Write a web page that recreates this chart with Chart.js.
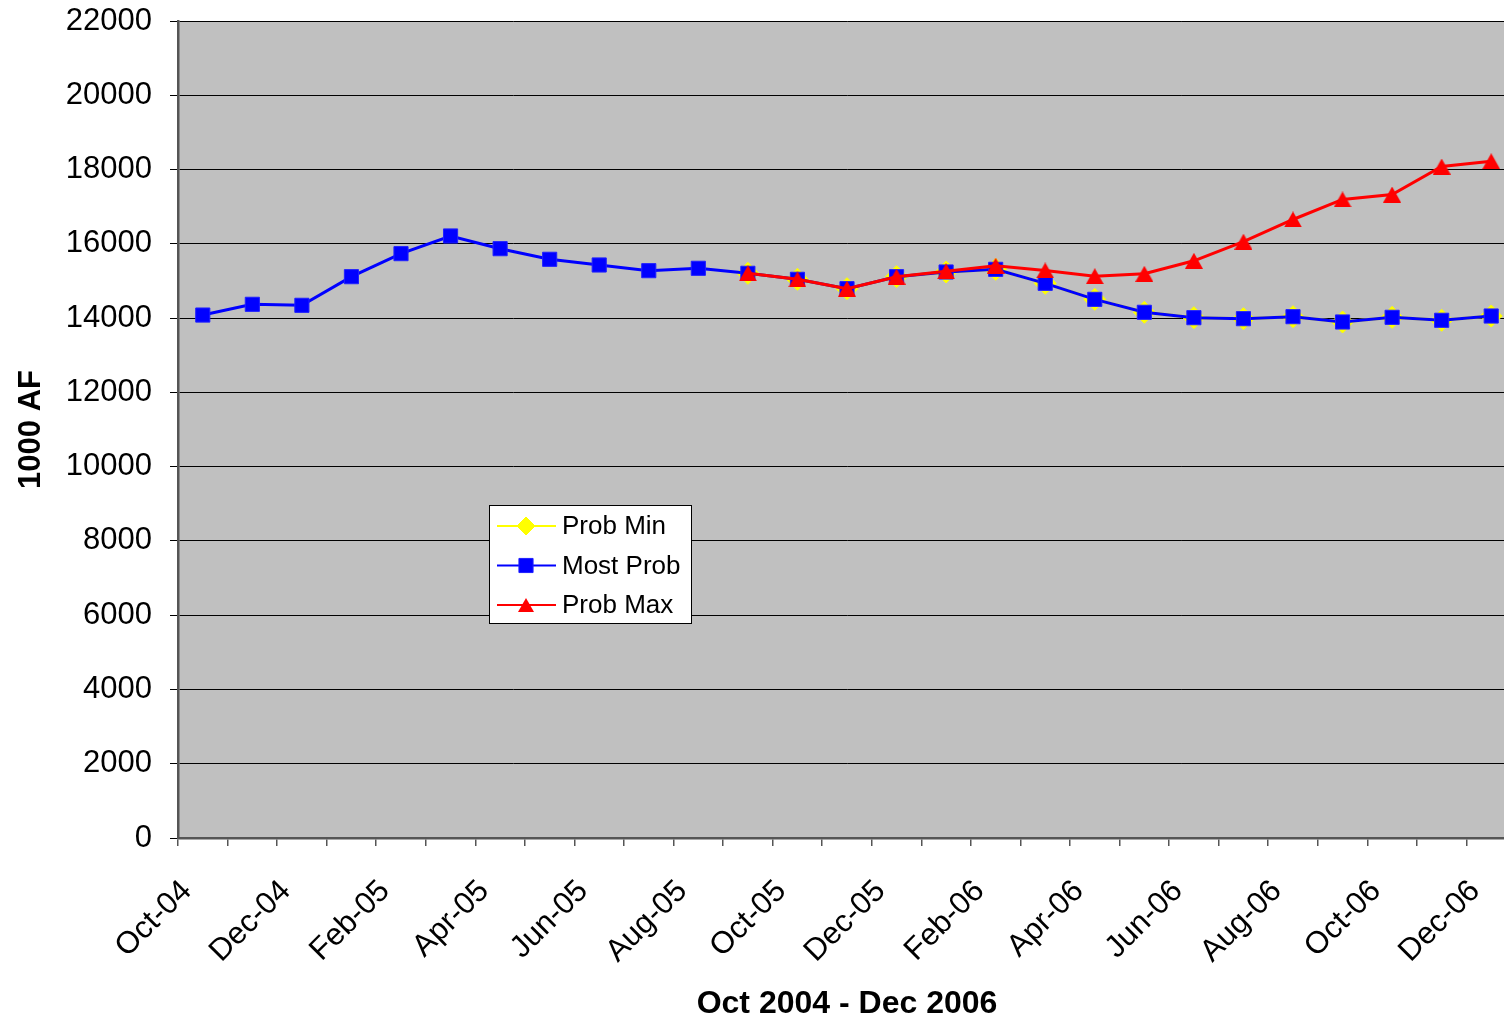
<!DOCTYPE html>
<html><head><meta charset="utf-8">
<script src="https://cdn.jsdelivr.net/npm/chart.js@4/dist/chart.umd.min.js"></script>
<style>
html,body{margin:0;padding:0;background:#fff;overflow:hidden;}
#wrap{width:1528px;height:1022px;position:relative;overflow:hidden;}
canvas{display:block;}
</style></head><body>
<div id="wrap"><canvas id="c" width="1528" height="1022" style="width:1528px;height:1022px;"></canvas></div>
<script>
const categories = ['Oct-04','Nov-04','Dec-04','Jan-05','Feb-05','Mar-05','Apr-05','May-05','Jun-05','Jul-05','Aug-05','Sep-05',
  'Oct-05','Nov-05','Dec-05','Jan-06','Feb-06','Mar-06','Apr-06','May-06','Jun-06','Jul-06','Aug-06','Sep-06','Oct-06','Nov-06','Dec-06'];
const shownTickLabels = ['Oct-04','Dec-04','Feb-05','Apr-05','Jun-05','Aug-05','Oct-05','Dec-05','Feb-06','Apr-06','Jun-06','Aug-06','Oct-06','Dec-06'];
const mostProb = [14082,14371,14344,15115,15735,16211,15869,15583,15430,15277,15341,15206,
  15044,14792,15115,15241,15313,14936,14505,14156,14011,13984,14038,13895,14021,13941,14056];
const probMin = [null,null,null,null,null,null,null,null,null,null,null,15206,
  15044,14792,15115,15241,15313,14936,14505,14156,14011,13984,14038,13895,14021,13941,14056];
const probMax = [null,null,null,null,null,null,null,null,null,null,null,15206,
  15044,14792,15115,15259,15408,15282,15128,15193,15543,16058,16655,17194,17328,18082,18222];
const yMin = 0, yMax = 22000, yStep = 2000;

const FONT = '"Liberation Sans", Arial, sans-serif';

// centered triangle marker
function triangleImage(w, h, color) {
  const cv = document.createElement('canvas');
  cv.width = w; cv.height = h;
  const g = cv.getContext('2d');
  g.fillStyle = color;
  g.beginPath();
  g.moveTo(w / 2, 0);
  g.lineTo(w, h);
  g.lineTo(0, h);
  g.closePath();
  g.fill();
  return cv;
}
const triRed = triangleImage(18, 16, '#FF0000');
const triRedSmall = triangleImage(16, 14, '#FF0000');

const bgPlugin = {
  id: 'plotBg',
  beforeDraw(chart) {
    const {ctx, chartArea: a} = chart;
    ctx.save();
    ctx.fillStyle = '#C0C0C0';
    ctx.fillRect(a.left, a.top, a.right - a.left, a.bottom - a.top);
    ctx.restore();
  }
};

const legendPlugin = {
  id: 'boxLegend',
  afterDraw(chart, args, opts) {
    const ctx = chart.ctx;
    const x = opts.x, y = opts.y, w = opts.w, h = opts.h;
    ctx.save();
    ctx.fillStyle = '#FFFFFF';
    ctx.fillRect(x, y, w, h);
    ctx.strokeStyle = '#000000';
    ctx.lineWidth = 1;
    ctx.strokeRect(x + 0.5, y + 0.5, w, h);
    chart.data.datasets.forEach((ds, i) => {
      const cy = y + opts.firstRow + i * opts.rowGap;
      ctx.strokeStyle = ds.borderColor;
      ctx.lineWidth = 2;
      ctx.beginPath();
      ctx.moveTo(x + 8, cy);
      ctx.lineTo(x + 67, cy);
      ctx.stroke();
      const mx = x + 37;
      const style = ds.legendMarker;
      if (style === 'tri') {
        ctx.drawImage(triRedSmall, mx - 8, cy - 7);
      } else {
        ctx.fillStyle = ds.pointBackgroundColor;
        ctx.strokeStyle = ds.pointBorderColor;
        ctx.lineWidth = 1;
        Chart.helpers.drawPoint(ctx, {pointStyle: style, rotation: 0, borderWidth: 1,
          radius: style === 'rect' ? 10 : 9}, mx, cy);
      }
      ctx.fillStyle = '#000000';
      ctx.font = '26px ' + FONT;
      ctx.textAlign = 'left';
      ctx.textBaseline = 'middle';
      ctx.fillText(ds.label, x + 73, cy + 1);
    });
    ctx.restore();
  }
};

new Chart(document.getElementById('c'), {
  type: 'line',
  data: {
    labels: categories,
    datasets: [
      {label: 'Prob Min', data: probMin, borderColor: '#FFFF00', backgroundColor: '#FFFF00',
       pointStyle: 'rectRot', pointRadius: 11, pointBackgroundColor: '#FFFF00', pointBorderColor: '#FFFF00',
       pointBorderWidth: 1, borderWidth: 3, order: 3, legendMarker: 'rectRot'},
      {label: 'Most Prob', data: mostProb, borderColor: '#0000FF', backgroundColor: '#0000FF',
       pointStyle: 'rect', pointRadius: 10, pointBackgroundColor: '#0000FF', pointBorderColor: '#2020FF',
       pointBorderWidth: 1, borderWidth: 3, order: 2, legendMarker: 'rect'},
      {label: 'Prob Max', data: probMax, borderColor: '#FF0000', backgroundColor: '#FF0000',
       pointStyle: triRed, pointRadius: 9, pointBackgroundColor: '#FF0000', pointBorderColor: '#FF0000',
       pointBorderWidth: 0, borderWidth: 3, order: 1, legendMarker: 'tri'}
    ]
  },
  options: {
    responsive: false,
    maintainAspectRatio: false,
    animation: false,
    devicePixelRatio: 1,
    layout: {padding: {left: 0, top: 21, right: 0, bottom: 0}},
    plugins: {
      legend: {display: false},
      tooltip: {enabled: false},
      boxLegend: {x: 489, y: 505, w: 202, h: 118, firstRow: 21, rowGap: 39.5}
    },
    elements: {line: {tension: 0}},
    spanGaps: false,
    scales: {
      x: {
        type: 'category',
        offset: true,
        grid: {display: true, drawOnChartArea: false, drawTicks: true, offset: true, tickLength: 8,
               color: '#555555', tickColor: '#555555', lineWidth: 1.5},
        border: {display: true, color: '#555555', width: 2.5},
        ticks: {
          autoSkip: false, minRotation: 45, maxRotation: 45, padding: 27, labelOffset: -16,
          color: '#000000', font: {family: FONT, size: 31},
          callback: function(v, i) { const l = categories[i]; return shownTickLabels.includes(l) ? l : ''; }
        },
        title: {display: true, text: 'Oct 2004 - Dec 2006', color: '#000000',
                font: {family: FONT, size: 32, weight: 'bold'}, padding: {top: 0, bottom: -1}},
        afterFit(scale) { scale.height = 184; scale.paddingLeft = 0; scale.paddingRight = 0; scale.paddingTop = 0; scale.paddingBottom = 0; }
      },
      y: {
        min: yMin, max: yMax,
        grid: {color: '#000000', lineWidth: 1, tickLength: 8, tickColor: '#000000', drawTicks: true},
        border: {display: true, color: '#555555', width: 2.5},
        ticks: {stepSize: yStep, padding: 18, color: '#000000', font: {family: FONT, size: 31},
                callback: function(v) { return String(v); }},
        title: {display: true, text: '1000 AF', color: '#000000',
                font: {family: FONT, size: 31, weight: 'bold'}, padding: {top: 13, bottom: 0}},
        afterFit(scale) { scale.width = 178; scale.paddingTop = 0; scale.paddingBottom = 0; scale.paddingLeft = 0; scale.paddingRight = 0; }
      }
    }
  },
  plugins: [bgPlugin, legendPlugin]
});
</script>
</body></html>
